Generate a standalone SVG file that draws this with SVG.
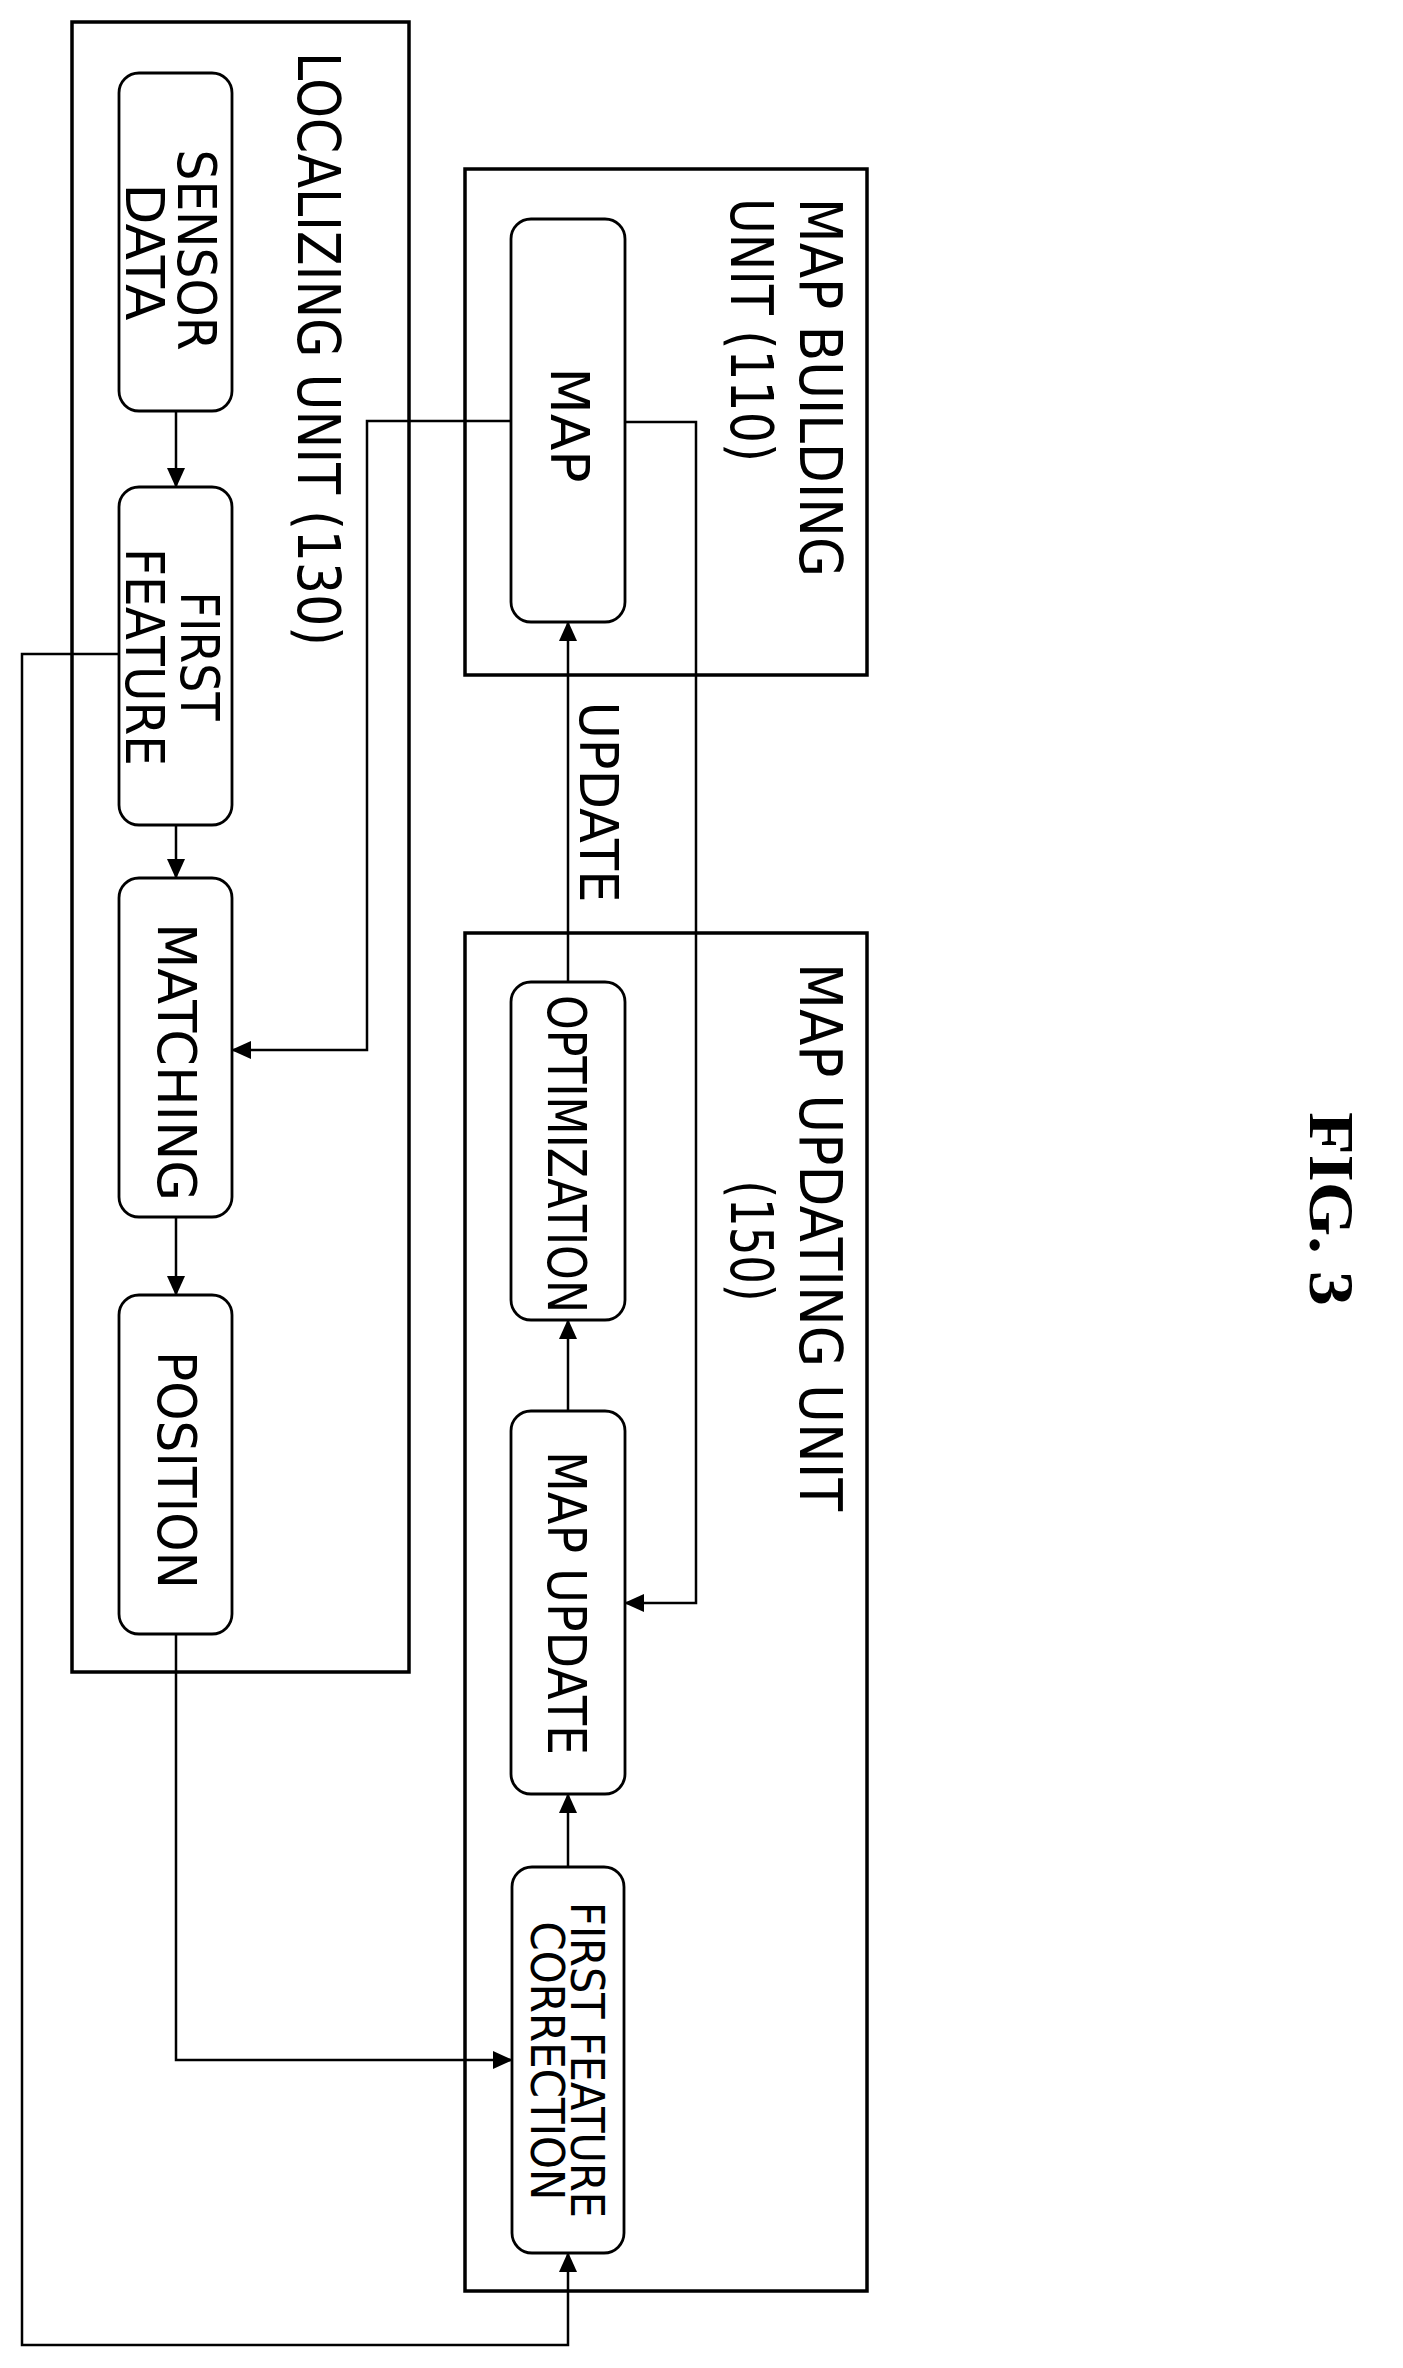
<svg xmlns="http://www.w3.org/2000/svg" width="1403" height="2368" viewBox="0 0 1403 2368">
<style>
.unit{fill:none;stroke:#000;stroke-width:3.5}
.node rect{fill:#fff;stroke:#000;stroke-width:2.8}
.c{fill:none;stroke:#000;stroke-width:2.5}
text{font-family:"DejaVu Sans","Liberation Sans",sans-serif;font-size:54px;fill:#000}
.lbl{font-size:58px}
.sm{font-size:46px}
.fig{font-family:"Liberation Serif",serif;font-weight:bold;font-size:64px}
</style>
<defs>
<marker id="ah" markerWidth="20" markerHeight="18" refX="19" refY="9" orient="auto" markerUnits="userSpaceOnUse">
<path d="M0,0 L20,9 L0,18 Z" fill="#000"/>
</marker>
</defs>
<rect width="1403" height="2368" fill="#fff"/>
<g id="localizing-unit">
<rect class="unit" x="72" y="22" width="337" height="1650"/>
<text class="lbl" transform="translate(319,349) rotate(90)" x="0" y="21" text-anchor="middle" textLength="594" lengthAdjust="spacingAndGlyphs">LOCALIZING UNIT (130)</text>
</g>
<g id="map-building-unit">
<rect class="unit" x="465" y="169" width="402" height="506"/>
<text class="lbl" transform="translate(821,198) rotate(90)" x="0" y="21" textLength="379" lengthAdjust="spacingAndGlyphs">MAP BUILDING</text>
<text class="lbl" transform="translate(752,198) rotate(90)" x="0" y="21" textLength="264" lengthAdjust="spacingAndGlyphs">UNIT (110)</text>
</g>
<g id="map-updating-unit">
<rect class="unit" x="465" y="933" width="402" height="1358"/>
<text class="lbl" transform="translate(821,1237) rotate(90)" x="0" y="21" text-anchor="middle" textLength="548" lengthAdjust="spacingAndGlyphs">MAP UPDATING UNIT</text>
<text class="lbl" transform="translate(752,1241) rotate(90)" x="0" y="21" text-anchor="middle" textLength="121" lengthAdjust="spacingAndGlyphs">(150)</text>
</g>
<g id="sensor-data" class="node">
<rect x="119" y="73" width="113" height="338" rx="20"/>
<text transform="translate(198,250) rotate(90)" x="0" y="20" text-anchor="middle" textLength="201" lengthAdjust="spacingAndGlyphs">SENSOR</text>
<text transform="translate(146,252) rotate(90)" x="0" y="20" text-anchor="middle" textLength="137" lengthAdjust="spacingAndGlyphs">DATA</text>
</g>
<g id="first-feature" class="node">
<rect x="119" y="487" width="113" height="338" rx="20"/>
<text transform="translate(201,656) rotate(90)" x="0" y="20" text-anchor="middle" textLength="129" lengthAdjust="spacingAndGlyphs">FIRST</text>
<text transform="translate(146,657) rotate(90)" x="0" y="20" text-anchor="middle" textLength="218" lengthAdjust="spacingAndGlyphs">FEATURE</text>
</g>
<g id="matching" class="node">
<rect x="119" y="878" width="113" height="339" rx="20"/>
<text transform="translate(178,1062) rotate(90)" x="0" y="20" text-anchor="middle" textLength="278" lengthAdjust="spacingAndGlyphs">MATCHING</text>
</g>
<g id="position" class="node">
<rect x="119" y="1295" width="113" height="339" rx="20"/>
<text transform="translate(178,1470) rotate(90)" x="0" y="20" text-anchor="middle" textLength="238" lengthAdjust="spacingAndGlyphs">POSITION</text>
</g>
<g id="map" class="node">
<rect x="511" y="219" width="114" height="403" rx="20"/>
<text transform="translate(571,425) rotate(90)" x="0" y="20" text-anchor="middle" textLength="115" lengthAdjust="spacingAndGlyphs">MAP</text>
</g>
<g id="optimization" class="node">
<rect x="511" y="982" width="114" height="338" rx="20"/>
<text transform="translate(568,1154) rotate(90)" x="0" y="20" text-anchor="middle" textLength="318" lengthAdjust="spacingAndGlyphs">OPTIMIZATION</text>
</g>
<g id="map-update" class="node">
<rect x="511" y="1411" width="114" height="383" rx="20"/>
<text transform="translate(568,1603) rotate(90)" x="0" y="20" text-anchor="middle" textLength="304" lengthAdjust="spacingAndGlyphs">MAP UPDATE</text>
</g>
<g id="first-feature-correction" class="node">
<rect x="512" y="1867" width="112" height="386" rx="20"/>
<text class="sm" transform="translate(588,2060) rotate(90)" x="0" y="17" text-anchor="middle" textLength="316" lengthAdjust="spacingAndGlyphs">FIRST FEATURE</text>
<text class="sm" transform="translate(548,2061) rotate(90)" x="0" y="17" text-anchor="middle" textLength="279" lengthAdjust="spacingAndGlyphs">CORRECTION</text>
</g>
<g id="connectors">
<path class="c" d="M176,411 V487" marker-end="url(#ah)"/>
<path class="c" d="M176,825 V878" marker-end="url(#ah)"/>
<path class="c" d="M176,1217 V1295" marker-end="url(#ah)"/>
<path class="c" d="M511,421 H367 V1050 H232" marker-end="url(#ah)"/>
<path class="c" d="M625,422 H696 V1603 H625" marker-end="url(#ah)"/>
<path class="c" d="M119,654 H22 V2345 H568 V2253" marker-end="url(#ah)"/>
<path class="c" d="M176,1634 V2060 H512" marker-end="url(#ah)"/>
<path class="c" d="M568,1867 V1794" marker-end="url(#ah)"/>
<path class="c" d="M568,1411 V1320" marker-end="url(#ah)"/>
<path class="c" d="M568,982 V622" marker-end="url(#ah)"/>
<text transform="translate(600,802) rotate(90)" x="0" y="20" text-anchor="middle" textLength="201" lengthAdjust="spacingAndGlyphs">UPDATE</text>
</g>
<text class="fig" transform="translate(1332,1209) rotate(90)" x="0" y="22" text-anchor="middle" textLength="194" lengthAdjust="spacingAndGlyphs">FIG. 3</text>
</svg>
